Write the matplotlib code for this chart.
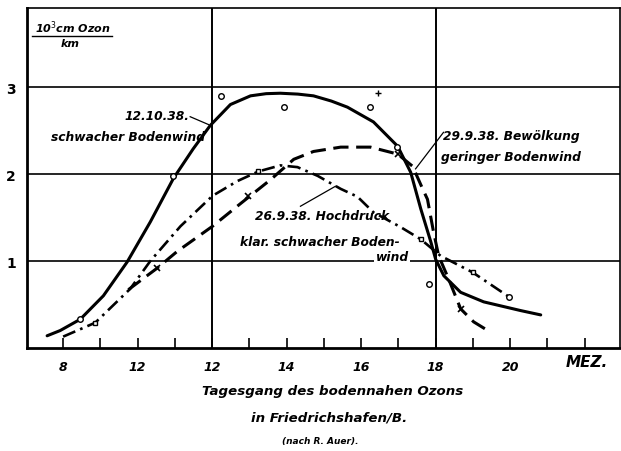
import matplotlib.pyplot as plt

# Tick labels as printed in the figure
hour_ticks = [8, 9, 10, 11, 12, 13, 14, 15, 16, 17, 18, 19, 20, 21, 22]
hour_labels = ['8', '', '12', '', '12', '', '14', '', '16', '', '18', '', '20', '', '']

# 12.10.38 - solid curve (hours MEZ, 10^3 cm Ozon / km)
x_1210 = [7.57, 7.92, 8.46, 9.08, 9.72, 10.34, 10.96, 11.49, 11.95, 12.49, 13.03,
          13.45, 13.83, 14.30, 14.72, 15.20, 15.63, 16.33, 16.98, 17.33, 17.60,
          17.87, 18.00, 18.22, 18.67, 19.29, 20.28, 20.82]
y_1210 = [0.14, 0.20, 0.33, 0.60, 0.99, 1.45, 1.95, 2.29, 2.56, 2.80, 2.90,
          2.925, 2.93, 2.92, 2.90, 2.84, 2.77, 2.60, 2.32, 2.02, 1.60,
          1.22, 1.02, 0.83, 0.64, 0.53, 0.43, 0.38]
mx_1210 = [8.46, 10.96, 12.24, 13.94, 16.25, 16.97, 17.83]
my_1210 = [0.33, 1.98, 2.90, 2.77, 2.77, 2.31, 0.74]
px_1210 = [16.46]
py_1210 = [2.93]

# 29.9.38 - dashed curve
x_2909 = [9.75, 10.53, 11.06, 12.01, 12.76, 13.58, 14.19, 14.72, 15.45, 16.25,
          16.98, 17.38, 17.65, 17.78, 17.94, 18.08, 18.35, 18.67, 19.02, 19.40]
y_2909 = [0.67, 0.92, 1.11, 1.40, 1.66, 1.94, 2.17, 2.26, 2.31, 2.31,
          2.23, 2.09, 1.83, 1.71, 1.34, 1.06, 0.79, 0.45, 0.30, 0.20]
mx_2909 = [10.53, 12.96, 16.98, 18.67]
my_2909 = [0.92, 1.75, 2.23, 0.45]

# 26.9.38 - dash-dot curve
x_2609 = [8.00, 8.86, 9.80, 10.34, 11.15, 12.01, 12.68, 13.24, 13.83, 14.29,
          14.83, 15.45, 15.90, 16.33, 17.06, 17.60, 18.13, 18.99, 19.96]
y_2609 = [0.13, 0.29, 0.68, 1.00, 1.40, 1.75, 1.92, 2.03, 2.10, 2.08,
          1.98, 1.83, 1.74, 1.56, 1.39, 1.25, 1.06, 0.87, 0.59]
mx_2609 = [8.86, 13.24, 17.60, 18.99]
my_2609 = [0.29, 2.03, 1.25, 0.87]

plt.rcParams['font.family'] = 'DejaVu Sans'
fnt = dict(style='italic', fontweight='semibold')
fs = 8.8

fig = plt.figure(figsize=(6.21, 4.52), dpi=100)
ax = fig.add_axes([0.0435, 0.228, 0.955, 0.752])

# grid
for g in [1, 2, 3]:
    ax.axhline(g, color='black', lw=1.2, zorder=1)
for g in [12, 18]:
    ax.axvline(g, color='black', lw=1.4, zorder=1)

# curves
ax.plot(x_1210, y_1210, color='black', lw=2.2, solid_capstyle='round', zorder=3)
ax.plot(mx_1210, my_1210, 'o', ms=4, mfc='white', mec='black', mew=1, zorder=4)
ax.plot(px_1210, py_1210, '+', ms=5, color='black', mew=1, zorder=4)

ax.plot(x_2909, y_2909, color='black', lw=2.2, dashes=(5, 2.5), zorder=3)
ax.plot(mx_2909, my_2909, 'x', ms=4, color='black', mew=1.2, zorder=4)

ax.plot(x_2609, y_2609, color='black', lw=1.9, dashes=(5, 2, 1, 2), zorder=3)
ax.plot(mx_2609, my_2609, 's', ms=3.5, mfc='white', mec='black', mew=1, zorder=4)
ax.plot([19.96], [0.59], 'o', ms=4, mfc='white', mec='black', mew=1, zorder=4)

# labels on the curves
ax.text(11.39, 2.67, '12.10.38.', ha='right', va='center', fontsize=fs, **fnt)
ax.text(11.82, 2.43, 'schwacher Bodenwind', ha='right', va='center', fontsize=fs, **fnt)
ax.plot([11.41, 11.90], [2.66, 2.57], color='black', lw=0.9)

ax.text(18.21, 2.44, '29.9.38. Bewölkung', ha='left', va='center', fontsize=fs, **fnt)
ax.text(18.13, 2.20, 'geringer Bodenwind', ha='left', va='center', fontsize=fs, **fnt)
ax.plot([18.21, 17.46], [2.48, 2.06], color='black', lw=0.9)

ax.text(13.16, 1.52, '26.9.38. Hochdruck', ha='left', va='center', fontsize=fs, **fnt)
ax.text(12.76, 1.23, 'klar. schwacher Boden-', ha='left', va='center', fontsize=fs, **fnt)
ax.text(16.39, 1.05, 'wind', ha='left', va='center', fontsize=fs, zorder=2,
        bbox=dict(facecolor='white', edgecolor='none', pad=1), **fnt)
ax.plot([14.37, 15.31], [1.63, 1.86], color='black', lw=0.9)

# axis unit in the upper left corner
ax.text(8.25, 3.60, '10$^3$cm Ozon', ha='center', va='bottom', fontsize=8, **fnt)
ax.plot([7.17, 9.32], [3.59, 3.59], color='black', lw=1)
ax.text(8.2, 3.56, 'km', ha='center', va='top', fontsize=8, **fnt)

ax.set_xlim(7.03, 22.95)
ax.set_ylim(0, 3.91)
ax.set_xticks(hour_ticks)
ax.set_xticklabels(hour_labels, fontsize=9, **fnt)
ax.set_yticks([1, 2, 3])
ax.set_yticklabels(['1', '2', '3'], fontsize=10, fontweight='bold')
ax.tick_params(axis='x', direction='in', length=7, width=1.2, pad=9)
ax.tick_params(axis='y', length=0, pad=8)
ax.spines['left'].set_linewidth(2)
ax.spines['bottom'].set_linewidth(2)
ax.spines['top'].set_linewidth(1.2)
ax.spines['right'].set_linewidth(1.2)

ax.text(22.05, -0.16, 'MEZ.', ha='center', va='center', fontsize=11, **fnt)

# caption
fig.text(0.535, 0.133, 'Tagesgang des bodennahen Ozons', ha='center', va='center', fontsize=9.6, **fnt)
fig.text(0.53, 0.075, 'in Friedrichshafen/B.', ha='center', va='center', fontsize=9.6, **fnt)
fig.text(0.515, 0.024, '(nach R. Auer).', ha='center', va='center', fontsize=6.5, **fnt)

fig.savefig('out.png', dpi=100)
